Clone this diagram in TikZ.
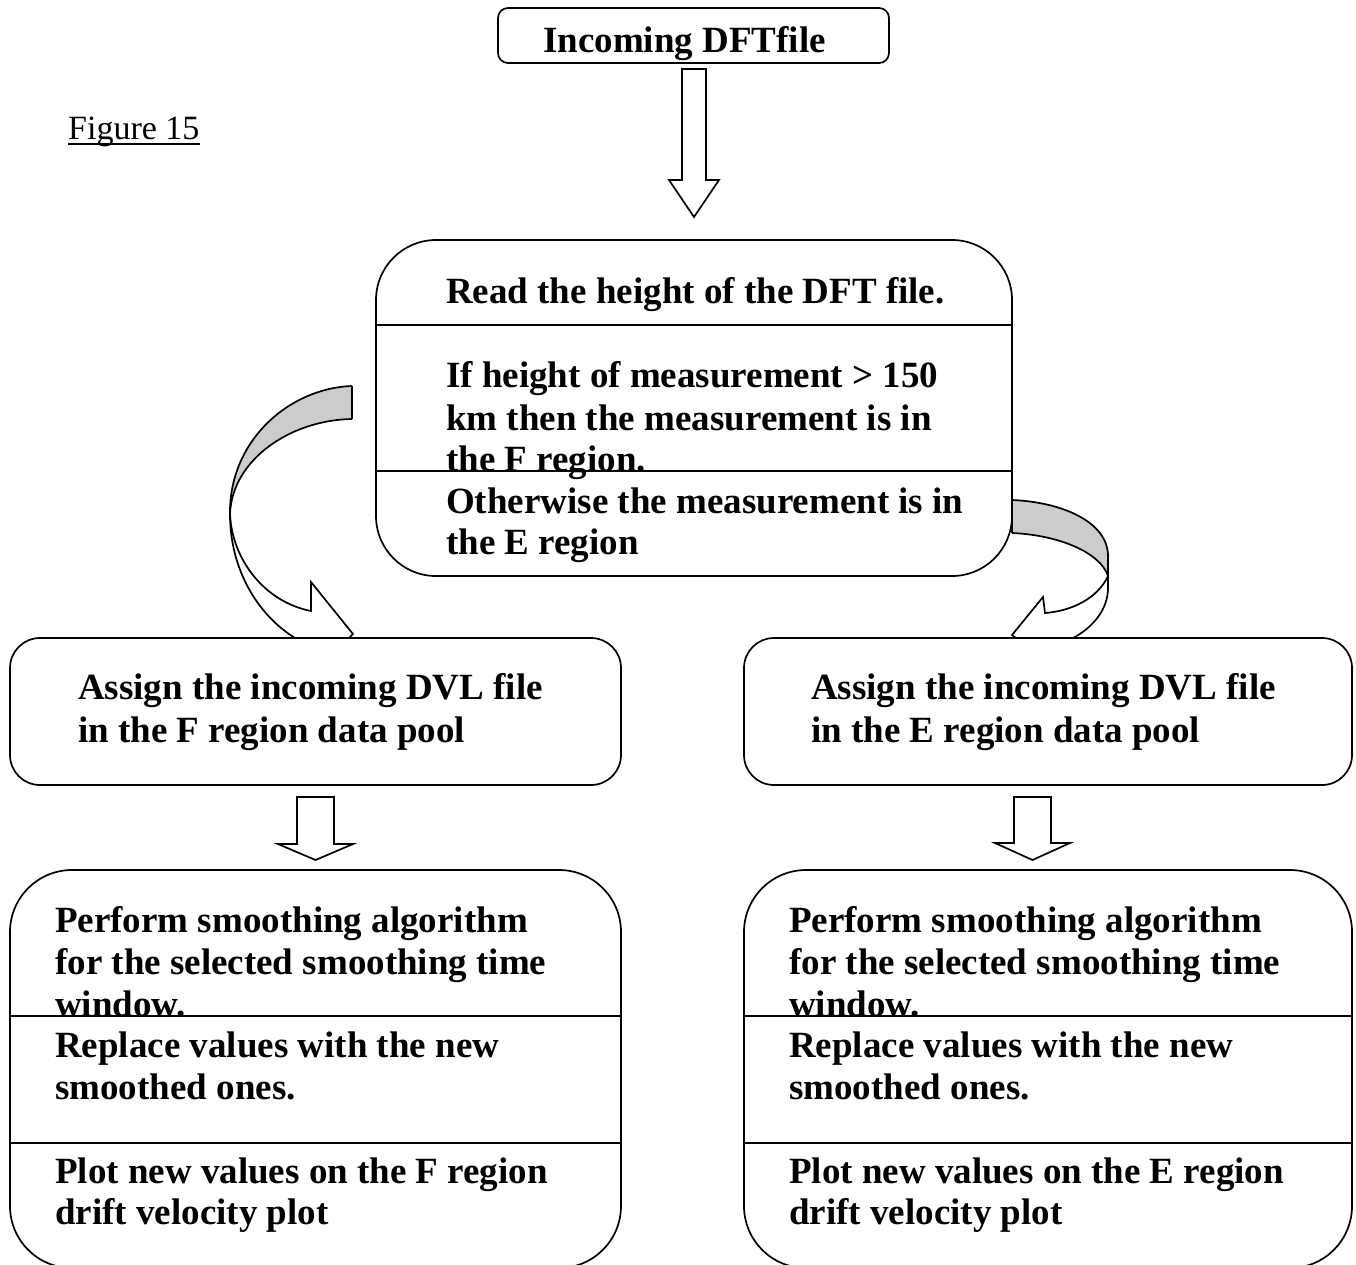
\documentclass[tikz,border=0pt]{standalone}
\usepackage{fontspec}
\setmainfont{Liberation Serif}
\usetikzlibrary{calc}
\definecolor{bandgray}{RGB}{204,204,204}
\tikzset{
  rbox/.style={draw, line width=1.7pt, fill=white, inner sep=0pt},
  txt/.style={anchor=base west, inner sep=0pt, font=\fontsize{37}{43}\selectfont\bfseries},
  blockarrow/.style={draw, line width=1.7pt, fill=white, line join=miter},
  curl/.style={draw, line width=1.7pt, line join=miter},
  band/.style={fill=bandgray},
  divider/.style={line width=1.7pt}
}
\begin{document}
\begin{tikzpicture}[x=1pt, y=-1pt]
\useasboundingbox (0,0) rectangle (1356,1264);
\clip (0,0) rectangle (1356,1264);
\fill[white] (0,0) rectangle (1356,1264);

% boxes
\node[rbox, rounded corners=10pt, minimum width=391pt, minimum height=55pt] (inc) at (693.5,35.5) {};
\node[rbox, rounded corners=60pt, minimum width=636pt, minimum height=336pt] (read) at (694,408) {};
\node[rbox, rounded corners=30pt, minimum width=611pt, minimum height=147pt] (assF) at (315.5,711.5) {};
\node[rbox, rounded corners=30pt, minimum width=608pt, minimum height=147pt] (assE) at (1048,711.5) {};
\node[rbox, rounded corners=62pt, minimum width=611pt, minimum height=398pt] (smF) at (315.5,1069) {};
\node[rbox, rounded corners=62pt, minimum width=608pt, minimum height=398pt] (smE) at (1048,1069) {};

% compartment dividers
\coordinate (d1) at (0,325);
\coordinate (d2) at (0,471);
\coordinate (d3) at (0,1016);
\coordinate (d4) at (0,1143);
\draw[divider] (read.west |- d1) -- (read.east |- d1);
\draw[divider] (read.west |- d2) -- (read.east |- d2);
\draw[divider] (smF.west |- d3) -- (smF.east |- d3);
\draw[divider] (smF.west |- d4) -- (smF.east |- d4);
\draw[divider] (smE.west |- d3) -- (smE.east |- d3);
\draw[divider] (smE.west |- d4) -- (smE.east |- d4);

% caption
\node[anchor=base west, inner sep=0pt, font=\fontsize{34}{40}\selectfont] (fig) at (68,139) {Figure 15};
\draw[line width=1.7pt] ($(fig.base west)+(0,5)$) -- ($(fig.base east)+(0,5)$);

% texts
\node[txt] (tinc) at (543,52) {Incoming DFTfile};
\node[txt] (t1) at (446,303) {Read the height of the DFT file.};
\node[txt] (t2) at (446,387) {If height of measurement > 150};
\node[txt] (t3) at (446,430) {km then the measurement is in};
\node[txt] (t4) at (446,471) {the F region.};
\node[txt] (t5) at (446,513) {Otherwise the measurement is in};
\node[txt] (t6) at (446,554) {the E region};

\node[txt] (fa1) at (78,699) {Assign the incoming DVL file};
\node[txt] (fa2) at (78,742) {in the F region data pool};
\node[txt] (ea1) at (811,699) {Assign the incoming DVL file};
\node[txt] (ea2) at (811,742) {in the E region data pool};

\node[txt] (fs1) at (55,932) {Perform smoothing algorithm};
\node[txt] (fs2) at (55,974) {for the selected smoothing time};
\node[txt] (fs3) at (55,1016) {window.};
\node[txt] (fs4) at (55,1057) {Replace values with the new};
\node[txt] (fs5) at (55,1099) {smoothed ones.};
\node[txt] (fs6) at (55,1183) {Plot new values on the F region};
\node[txt] (fs7) at (55,1224) {drift velocity plot};

\node[txt] (es1) at (789,932) {Perform smoothing algorithm};
\node[txt] (es2) at (789,974) {for the selected smoothing time};
\node[txt] (es3) at (789,1016) {window.};
\node[txt] (es4) at (789,1057) {Replace values with the new};
\node[txt] (es5) at (789,1099) {smoothed ones.};
\node[txt] (es6) at (789,1183) {Plot new values on the E region};
\node[txt] (es7) at (789,1224) {drift velocity plot};

% straight block arrows
\draw[blockarrow] (682,69) -- (706,69) -- (706,180) -- (719,180) -- (694,217)
  -- (669,180) -- (682,180) -- cycle;
\draw[blockarrow] (297,797) -- (334,797) -- (334,844) -- (353,844) -- (315.5,860)
  -- (278,844) -- (297,844) -- cycle;
\draw[blockarrow] (1014,797) -- (1051,797) -- (1051,843) -- (1070,843) -- (1032.5,860)
  -- (995,843) -- (1014,843) -- cycle;

% curved arrow towards the F region
\fill[band] (352,386) .. controls (290,388) and (229,440) .. (230,514)
  .. controls (232,460) and (290,420) .. (352,419) -- cycle;
\draw[curl] (352,386) .. controls (290,388) and (229,440) .. (230,514)
  .. controls (230,570) and (258,615) .. (295,638);
\draw[curl] (352,419) .. controls (290,420) and (232,460) .. (230,514)
  .. controls (232,560) and (265,602) .. (311,611) -- (311,582) -- (353,634) -- (349,638);
\draw[curl] (352,386) -- (352,419);

% curved arrow towards the E region
\fill[band] (1012,500) .. controls (1062,502) and (1108,522) .. (1108,556) -- (1108,576)
  .. controls (1100,552) and (1058,535) .. (1012,533) -- cycle;
\draw[curl] (1012,500) .. controls (1062,502) and (1108,522) .. (1108,556) -- (1108,588)
  .. controls (1108,610) and (1092,628) .. (1073,638);
\draw[curl] (1012,533) .. controls (1058,535) and (1100,552) .. (1108,576)
  .. controls (1098,598) and (1072,611) .. (1045,613) -- (1043,597) -- (1012,635) -- (1016,638);
\draw[curl] (1012,500) -- (1012,533);
\end{tikzpicture}
\end{document}
